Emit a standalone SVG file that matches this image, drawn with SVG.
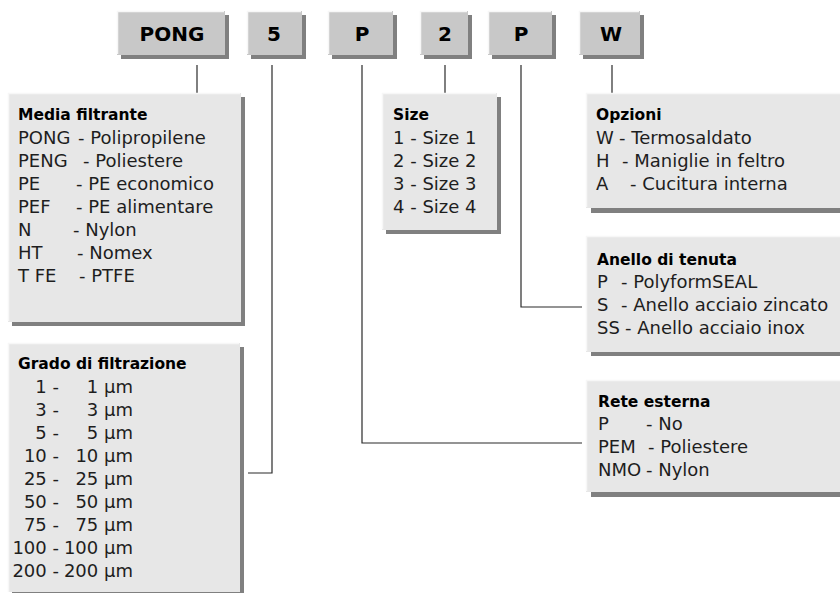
<svg xmlns="http://www.w3.org/2000/svg" width="840" height="593" viewBox="0 0 840 593">
<style>
.sh{fill:#808080}
.tb{fill:#c8c8c8}
.ib{fill:#e7e7e7}
.hl{fill:none;stroke:#f7f7f7;stroke-width:1.5}
.k{font-family:"DejaVu Sans",sans-serif;font-weight:bold;font-size:20px;fill:#000;text-anchor:middle}
.h{font-family:"DejaVu Sans",sans-serif;font-weight:bold;font-size:15.5px;fill:#000}
.t{font-family:"DejaVu Sans",sans-serif;font-size:18px;fill:#1e1e1e}
.e{text-anchor:end}
.c{fill:none;stroke:#2a2a2a;stroke-width:1.2}
</style>
<rect width="840" height="593" fill="#fff"/>

<g id="connectors">
<path class="c" d="M197 65V93"/>
<path class="c" d="M272 65V473H248"/>
<path class="c" d="M362 65V443H582"/>
<path class="c" d="M445 65V93"/>
<path class="c" d="M521 65V307H582"/>
<path class="c" d="M612 65V93"/>
</g>

<g id="code-pong">
<rect class="sh" x="121" y="15" width="108" height="44"/>
<rect class="tb" x="117" y="11" width="108" height="44"/>
<path class="hl" d="M117.5 54V11.5H224"/>
<text class="k" x="172" y="41">PONG</text>
</g>
<g id="code-5">
<rect class="sh" x="251" y="15" width="55" height="44"/>
<rect class="tb" x="247" y="11" width="55" height="44"/>
<path class="hl" d="M247.5 54V11.5H301"/>
<text class="k" x="274" y="41">5</text>
</g>
<g id="code-p1">
<rect class="sh" x="332" y="15" width="65" height="44"/>
<rect class="tb" x="328" y="11" width="65" height="44"/>
<path class="hl" d="M328.5 54V11.5H392"/>
<text class="k" x="362" y="41">P</text>
</g>
<g id="code-2">
<rect class="sh" x="424" y="15" width="48" height="44"/>
<rect class="tb" x="420" y="11" width="48" height="44"/>
<path class="hl" d="M420.5 54V11.5H467"/>
<text class="k" x="445" y="41">2</text>
</g>
<g id="code-p2">
<rect class="sh" x="492" y="15" width="64" height="44"/>
<rect class="tb" x="488" y="11" width="64" height="44"/>
<path class="hl" d="M488.5 54V11.5H551"/>
<text class="k" x="521" y="41">P</text>
</g>
<g id="code-w">
<rect class="sh" x="583" y="15" width="61" height="44"/>
<rect class="tb" x="579" y="11" width="61" height="44"/>
<path class="hl" d="M579.5 54V11.5H639"/>
<text class="k" x="611" y="41">W</text>
</g>

<g id="media-filtrante">
<rect class="sh" x="12" y="97" width="233" height="229"/>
<rect class="ib" x="8" y="93" width="233" height="229"/>
<path class="hl" d="M8.5 321V93.5H240"/>
<text class="h" x="18" y="120">Media filtrante</text>
<text class="t"><tspan x="18" y="144">PONG</tspan><tspan x="78" y="144">- Polipropilene</tspan></text>
<text class="t"><tspan x="18" y="167">PENG</tspan><tspan x="83" y="167">- Poliestere</tspan></text>
<text class="t"><tspan x="18" y="190">PE</tspan><tspan x="76" y="190">- PE economico</tspan></text>
<text class="t"><tspan x="18" y="213">PEF</tspan><tspan x="76" y="213">- PE alimentare</tspan></text>
<text class="t"><tspan x="18" y="236">N</tspan><tspan x="73" y="236">- Nylon</tspan></text>
<text class="t"><tspan x="18" y="259">HT</tspan><tspan x="77" y="259">- Nomex</tspan></text>
<text class="t"><tspan x="18" y="282">T FE</tspan><tspan x="79" y="282">- PTFE</tspan></text>
</g>

<g id="grado-filtrazione">
<rect class="sh" x="12" y="347" width="232" height="250"/>
<rect class="ib" x="8" y="343" width="232" height="249"/>
<path class="hl" d="M8.5 592V343.5H239"/>
<text class="h" x="18" y="369">Grado di filtrazione</text>
<text class="t e"><tspan x="59" y="393">1 -</tspan><tspan x="133" y="393">1 µm</tspan></text>
<text class="t e"><tspan x="59" y="416">3 -</tspan><tspan x="133" y="416">3 µm</tspan></text>
<text class="t e"><tspan x="59" y="439">5 -</tspan><tspan x="133" y="439">5 µm</tspan></text>
<text class="t e"><tspan x="59" y="462">10 -</tspan><tspan x="133" y="462">10 µm</tspan></text>
<text class="t e"><tspan x="59" y="485">25 -</tspan><tspan x="133" y="485">25 µm</tspan></text>
<text class="t e"><tspan x="59" y="508">50 -</tspan><tspan x="133" y="508">50 µm</tspan></text>
<text class="t e"><tspan x="59" y="531">75 -</tspan><tspan x="133" y="531">75 µm</tspan></text>
<text class="t e"><tspan x="59" y="554">100 -</tspan><tspan x="133" y="554">100 µm</tspan></text>
<text class="t e"><tspan x="59" y="577">200 -</tspan><tspan x="133" y="577">200 µm</tspan></text>
</g>

<g id="size">
<rect class="sh" x="386" y="97" width="115" height="137"/>
<rect class="ib" x="382" y="93" width="115" height="137"/>
<path class="hl" d="M382.5 229V93.5H496"/>
<text class="h" x="393" y="120">Size</text>
<text class="t" x="393" y="144">1 - Size 1</text>
<text class="t" x="393" y="167">2 - Size 2</text>
<text class="t" x="393" y="190">3 - Size 3</text>
<text class="t" x="393" y="213">4 - Size 4</text>
</g>

<g id="opzioni">
<rect class="sh" x="591" y="98" width="260" height="115"/>
<rect class="ib" x="586" y="93" width="260" height="115"/>
<path class="hl" d="M586.5 207V93.5H840"/>
<text class="h" x="596" y="120">Opzioni</text>
<text class="t"><tspan x="596" y="144">W</tspan><tspan x="619" y="144">- Termosaldato</tspan></text>
<text class="t"><tspan x="596" y="167">H</tspan><tspan x="622" y="167">- Maniglie in feltro</tspan></text>
<text class="t"><tspan x="596" y="190">A</tspan><tspan x="630" y="190">- Cucitura interna</tspan></text>
</g>

<g id="anello-tenuta">
<rect class="sh" x="591" y="241" width="260" height="115"/>
<rect class="ib" x="586" y="236" width="260" height="116"/>
<path class="hl" d="M586.5 351V236.5H840"/>
<text class="h" x="597" y="265">Anello di tenuta</text>
<text class="t"><tspan x="597" y="288">P</tspan><tspan x="621" y="288">- PolyformSEAL</tspan></text>
<text class="t"><tspan x="597" y="311">S</tspan><tspan x="621" y="311">- Anello acciaio zincato</tspan></text>
<text class="t"><tspan x="597" y="334">SS</tspan><tspan x="625" y="334">- Anello acciaio inox</tspan></text>
</g>

<g id="rete-esterna">
<rect class="sh" x="591" y="385" width="260" height="112"/>
<rect class="ib" x="586" y="380" width="260" height="112"/>
<path class="hl" d="M586.5 491V380.5H840"/>
<text class="h" x="598" y="407">Rete esterna</text>
<text class="t"><tspan x="598" y="430">P</tspan><tspan x="646" y="430">- No</tspan></text>
<text class="t"><tspan x="598" y="453">PEM</tspan><tspan x="648" y="453">- Poliestere</tspan></text>
<text class="t"><tspan x="598" y="476">NMO</tspan><tspan x="646" y="476">- Nylon</tspan></text>
</g>
</svg>
